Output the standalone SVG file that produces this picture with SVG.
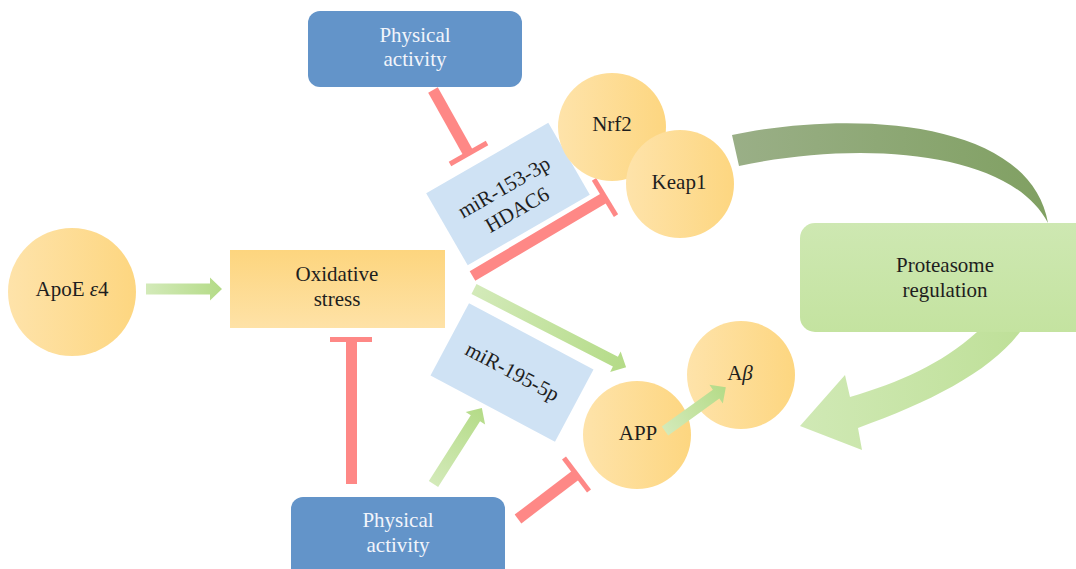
<svg xmlns="http://www.w3.org/2000/svg" width="1076" height="569" viewBox="0 0 1076 569">
<defs>
<linearGradient id="gCircle" x1="0" y1="0" x2="1" y2="0"><stop offset="0" stop-color="#fee3aa"/><stop offset="1" stop-color="#fdd680"/></linearGradient>
<linearGradient id="gOx" x1="0" y1="0" x2="0" y2="1"><stop offset="0" stop-color="#fdd57e"/><stop offset="1" stop-color="#fee2a7"/></linearGradient>
<linearGradient id="gProt" x1="0" y1="0" x2="0" y2="1"><stop offset="0" stop-color="#cee8b2"/><stop offset="1" stop-color="#c4e3a0"/></linearGradient>
<linearGradient id="gArrow" x1="0" y1="0" x2="1" y2="0"><stop offset="0" stop-color="#d3eab9"/><stop offset="1" stop-color="#b4db87"/></linearGradient>
<linearGradient id="gDark" x1="0" y1="0" x2="1" y2="0"><stop offset="0" stop-color="#9aaf87"/><stop offset="1" stop-color="#80a062"/></linearGradient>
<linearGradient id="gLight" x1="0" y1="0" x2="1" y2="0"><stop offset="0" stop-color="#d0e9b5"/><stop offset="1" stop-color="#bfe099"/></linearGradient>
</defs>
<style>
text{font-family:"Liberation Serif","DejaVu Serif",serif;font-size:21px;text-anchor:middle;fill:#1e1e1e}
.pa{fill:#6394c9}
.pa-t{fill:#f2f5fb}
.circ{fill:url(#gCircle)}
.mir{fill:#cfe2f4}
.inh{stroke:#fe8886;stroke-width:11;fill:none}
.cap{stroke:#fe8886;stroke-width:5;fill:none}
.arr{fill:url(#gArrow)}
</style>
<rect width="1076" height="569" fill="#ffffff"/>

<g id="connectors">
  <path d="M732,135 C850,110 1030,118 1048,223 C1010,150 860,140 739,166 Z" fill="url(#gDark)"/>
  <path d="M977,332 C940,365 900,382 850,397 L845,375 L800,426 L862,450 L858,428 C930,402 990,372 1020,332 Z" fill="url(#gLight)"/>
  <path class="arr" d="M0,-5.5 H64 V-11.5 L76,0 L64,11.5 V5.5 H0 Z" transform="translate(146,289)"/>
  <path class="arr" d="M0,-5.5 H159 V-11.5 L171,0 L159,11.5 V5.5 H0 Z" transform="translate(474,289) rotate(27.2)"/>
  <path class="arr" d="M0,-5.5 H78 V-11.5 L90,0 L78,11.5 V5.5 H0 Z" transform="translate(433.5,484) rotate(-57.5)"/>
  <line class="inh" x1="433" y1="90" x2="468.5" y2="153.5"/>
  <line class="cap" x1="450" y1="164" x2="487" y2="143"/>
  <line class="inh" x1="472.5" y1="276" x2="605" y2="197.5"/>
  <line class="cap" x1="594" y1="179.4" x2="616" y2="215.6"/>
  <line class="inh" x1="351.5" y1="339" x2="351.5" y2="484"/>
  <line class="cap" x1="330" y1="339.5" x2="372" y2="339.5"/>
  <line class="inh" x1="518" y1="519" x2="576.5" y2="474.5"/>
  <line class="cap" x1="564" y1="458" x2="589" y2="491"/>
</g>

<g id="pa-top">
  <rect class="pa" x="308" y="11" width="214" height="76" rx="12"/>
  <text class="pa-t" x="415" y="42">Physical</text>
  <text class="pa-t" x="415" y="66">activity</text>
</g>
<g id="pa-bottom">
  <rect class="pa" x="291" y="497" width="214" height="86" rx="12"/>
  <text class="pa-t" x="398" y="527">Physical</text>
  <text class="pa-t" x="398" y="552">activity</text>
</g>
<g id="apoe">
  <circle class="circ" cx="72" cy="292" r="64"/>
  <text x="72" y="296">ApoE <tspan font-style="italic">ε</tspan>4</text>
</g>
<g id="oxidative">
  <rect x="230" y="250" width="215" height="78" fill="url(#gOx)"/>
  <text x="337" y="281">Oxidative</text>
  <text x="337" y="306">stress</text>
</g>
<g id="mir153">
  <g transform="translate(508,194) rotate(-30)">
    <rect class="mir" x="-70.5" y="-41.5" width="141" height="83"/>
    <text x="0" y="-1">miR-153-3p</text>
    <text x="0" y="25">HDAC6</text>
  </g>
</g>
<g id="mir195">
  <g transform="translate(512,372.5) rotate(28)">
    <rect class="mir" x="-70.5" y="-41" width="141" height="82"/>
    <text x="0" y="6">miR-195-5p</text>
  </g>
</g>
<g id="nrf2">
  <circle class="circ" cx="612" cy="127" r="54"/>
  <text x="612" y="131">Nrf2</text>
</g>
<g id="keap1">
  <circle class="circ" cx="680" cy="184" r="54"/>
  <text x="679" y="189">Keap1</text>
</g>
<g id="proteasome">
  <rect x="800" y="223" width="290" height="109" rx="15" fill="url(#gProt)"/>
  <text x="945" y="272">Proteasome</text>
  <text x="945" y="297">regulation</text>
</g>
<g id="app">
  <circle class="circ" cx="637" cy="435" r="54"/>
  <text x="638" y="440">APP</text>
</g>
<g id="abeta">
  <circle class="circ" cx="741" cy="375" r="54"/>
  <text x="740" y="380">A<tspan font-style="italic">β</tspan></text>
</g>
<g id="connectors-top">
  <path class="arr" d="M0,-5.5 H63 V-11.5 L75,0 L63,11.5 V5.5 H0 Z" transform="translate(665,431) rotate(-35.8)"/>
</g>
</svg>
